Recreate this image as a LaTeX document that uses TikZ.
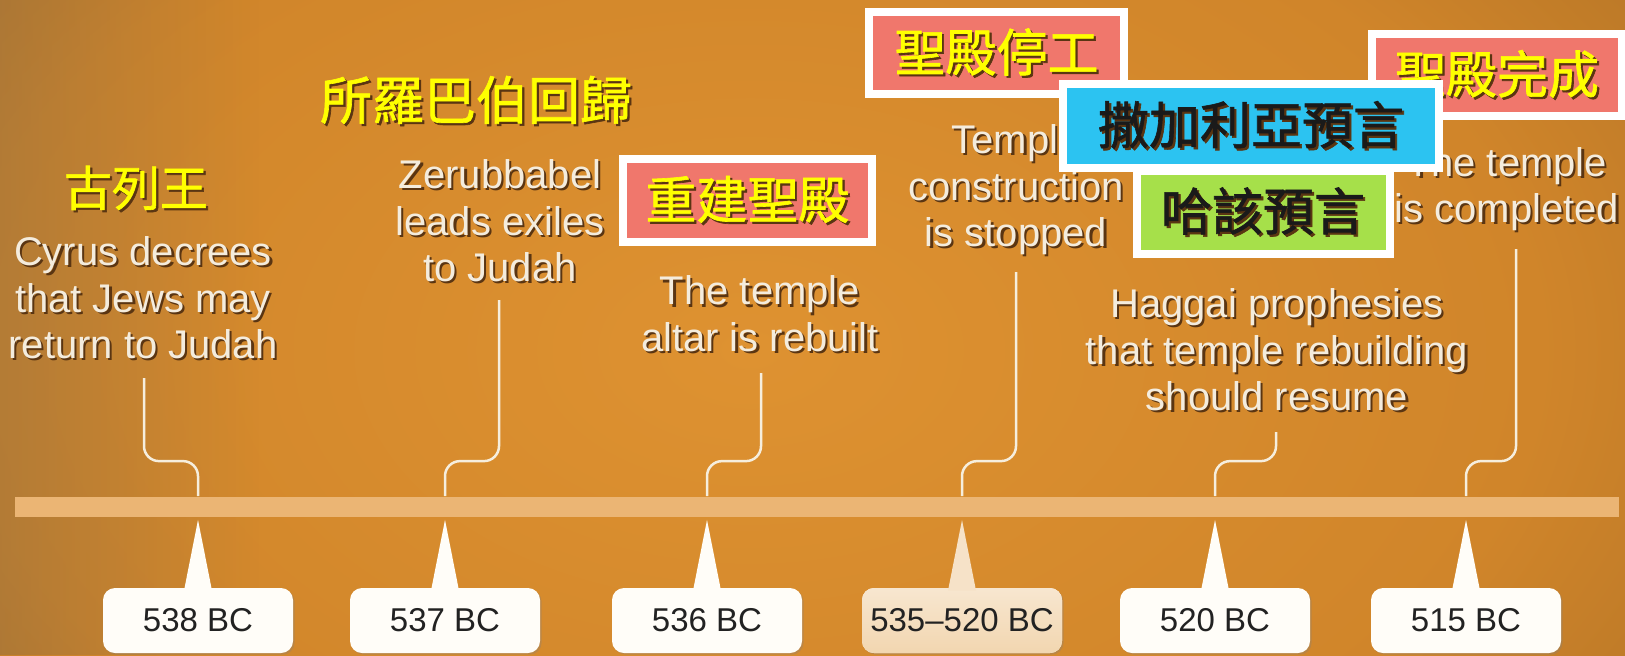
\documentclass[tikz,border=0pt]{standalone}
\usepackage{fontspec}
\setmainfont{Liberation Sans}
\newfontfamily\cjk{Noto Sans CJK TC}[FakeBold=1.2]
\usetikzlibrary{calc,shadows,fadings}
\definecolor{bgA}{HTML}{DE9231}
\definecolor{bgB}{HTML}{D0852A}
\definecolor{bgC}{HTML}{8E5E22}
\definecolor{bgTL}{HTML}{7E6A4C}
\definecolor{barc}{HTML}{EBB574}
\definecolor{txtw}{HTML}{F4ECDD}
\definecolor{shadowc}{HTML}{5A3512}
\definecolor{linew}{HTML}{F6EEDD}
\definecolor{boxw}{HTML}{FFFDF8}
\definecolor{boxtan}{HTML}{F2D6B0}
\definecolor{datetext}{HTML}{222222}
\definecolor{cjky}{HTML}{FFFF00}
\definecolor{pinkc}{HTML}{F0776C}
\definecolor{bluec}{HTML}{2CC3F1}
\definecolor{greenc}{HTML}{A6E04A}
\definecolor{cjkk}{HTML}{1A1A1A}
\pgfdeclareradialshading{bgshade}{\pgfpoint{0bp}{0bp}}{color(0bp)=(bgA); color(12bp)=(bgB); color(25bp)=(bgC); color(50bp)=(bgC)}
\newcommand\shtxt[2]{\makebox[0pt][l]{\hspace{1.1pt}\raisebox{-1.1pt}{\textcolor{shadowc}{#2}}}\textcolor{#1}{#2}}
\begin{document}
\begin{tikzpicture}[x=0.5pt,y=-0.5pt,
  evt/.style={align=center,inner sep=0pt,font=\fontsize{20}{23.25}\selectfont},
  conn/.style={draw=linew,line width=1.25pt,rounded corners=7.5pt},
  datebox/.style={fill=boxw,rounded corners=6pt,minimum width=95pt,minimum height=32.5pt,inner sep=0pt,
    font=\fontsize{16.5}{16.5}\selectfont,text=datetext,
    drop shadow={opacity=0.3,shadow xshift=0.8pt,shadow yshift=-0.8pt}},
  cbox/.style={draw=white,line width=4pt,inner sep=0pt,font=\cjk\fontsize{25.5}{25.5}\selectfont,
    drop shadow={opacity=0.35,shadow xshift=1.2pt,shadow yshift=-1.2pt}},
  cjklab/.style={inner sep=0pt}
]
\useasboundingbox (0,0) rectangle (1625,655);
\begin{scope}
\clip (0,0) rectangle (1625,655);
\shade[shading=bgshade] (-900,-700) rectangle (2400,1400);
\fill[bgTL,opacity=0.35,path fading=east] (0,0) rectangle (260,655);
\end{scope}

% timeline bar
\node[fill=barc,minimum width=802pt,minimum height=10pt,inner sep=0pt] (bar) at (817,506.5) {};

% event texts
\node[evt] (t538) at (143,299) {\shtxt{txtw}{Cyrus decrees}\\\shtxt{txtw}{that Jews may}\\\shtxt{txtw}{return to Judah}};
\node[evt] (t537) at (500,222) {\shtxt{txtw}{Zerubbabel}\\\shtxt{txtw}{leads exiles}\\\shtxt{txtw}{to Judah}};
\node[evt] (t536) at (760,315) {\shtxt{txtw}{The temple}\\\shtxt{txtw}{altar is rebuilt}};
\node[evt] (t535) at (1016,191) {\shtxt{txtw}{Temple}\\\shtxt{txtw}{construction}\\\shtxt{txtw}{is stopped}};
\node[evt] (t520) at (1277,351) {\shtxt{txtw}{Haggai prophesies}\\\shtxt{txtw}{that temple rebuilding}\\\shtxt{txtw}{should resume}};
\node[evt] (t515) at (1507,190) {\shtxt{txtw}{The temple}\\\shtxt{txtw}{is completed}};

% chinese labels
\node[cjklab,font=\cjk\fontsize{24}{24}\selectfont] (kcyrus) at (136,189) {\shtxt{cjky}{古列王}};
\node[cjklab,font=\cjk\fontsize{26}{26}\selectfont] (kzerub) at (476,101) {\shtxt{cjky}{所羅巴伯回歸}};

% date boxes
\node[datebox] (d538) at (198,620.5) {538 BC};
\node[datebox] (d537) at (445,620.5) {537 BC};
\node[datebox] (d536) at (707,620.5) {536 BC};
\node[datebox,minimum width=100pt,top color=boxtan!60!white,bottom color=boxtan] (d535) at (962,620.5) {535--520 BC};
\node[datebox] (d520) at (1215,620.5) {520 BC};
\node[datebox] (d515) at (1466,620.5) {515 BC};

% pointers
\foreach \d/\c in {d538/boxw,d537/boxw,d536/boxw,d535/boxtan!70!white,d520/boxw,d515/boxw}{
  \fill[fill=\c] ($(\d.north)+(-14,3)$) -- ($(\d.north |- bar.south)+(0,3)$) -- ($(\d.north)+(14,3)$) -- cycle;
}

% connector start points
\coordinate (c538) at (144,378);
\coordinate (c537) at (499,300);
\coordinate (c536) at (761,373);
\coordinate (c535) at (1016,272);
\coordinate (c520) at (1276,432);
\coordinate (c515) at (1516,249);
\foreach \c/\d in {c538/d538,c537/d537,c536/d536,c535/d535,c520/d520,c515/d515}{
  \draw[conn] (\c) |- ($(\d.north |- bar.north)+(0,-35)$) -- (\d.north |- bar.north);
}

% colored boxes
\node[cbox,fill=pinkc,minimum width=124.5pt,minimum height=41.5pt] (b536) at (747.5,200.5) {\shtxt{cjky}{重建聖殿}};
\node[cbox,fill=pinkc,minimum width=127.5pt,minimum height=41pt] (b535) at (996.5,53) {\shtxt{cjky}{聖殿停工}};
\node[cbox,fill=pinkc,minimum width=125pt,minimum height=41pt] (b515) at (1497,75) {\shtxt{cjky}{聖殿完成}};
\node[cbox,fill=greenc,minimum width=126.5pt,minimum height=41.5pt] (b520) at (1263,212) {\shtxt{cjkk}{哈該預言}};
\node[cbox,fill=bluec,minimum width=188pt,minimum height=42pt] (bzech) at (1251,126) {\shtxt{cjkk}{撒加利亞預言}};
\end{tikzpicture}
\end{document}
